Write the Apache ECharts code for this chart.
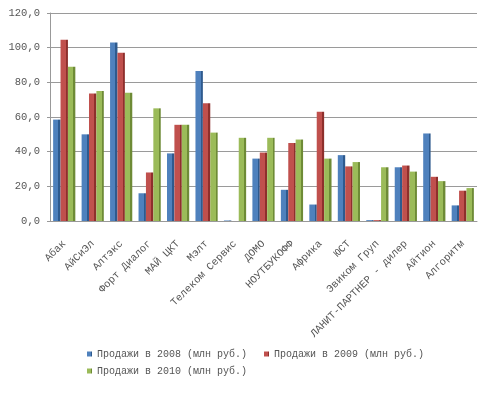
<!DOCTYPE html>
<html><head><meta charset="utf-8">
<script src="https://cdn.jsdelivr.net/npm/echarts@6/dist/echarts.min.js"></script>
<style>html,body{margin:0;padding:0;background:#fff}#c{width:485px;height:396px}</style>
</head><body><div id="c"></div>
<script>
const categories = ["Абак","АйСиЭл","Алтэкс","Форт Диалог","МАЙ ЦКТ","Мэлт","Телеком Сервис","ДОМО","НОУТБУКОФФ","Африка","ЮСТ","Эвиком Груп","ЛАНИТ-ПАРТНЕР - дилер","Айтион","Алгоритм"];
const sales2008 = [58.5, 50, 103, 16, 39, 86.5, 0.3, 36, 18, 9.5, 38, 0.5, 31, 50.5, 9];
const sales2009 = [104.5, 73.5, 97, 28, 55.5, 68, 0, 39.5, 45, 63, 31.5, 0.5, 32, 25.5, 17.5];
const sales2010 = [89, 75, 74, 65, 55.5, 51, 48, 48, 47, 36, 34, 31, 28.5, 23, 19];
const yTicks = [0, 20, 40, 60, 80, 100, 120];
const seriesNames = ["Продажи в 2008 (млн руб.)","Продажи в 2009 (млн руб.)","Продажи в 2010 (млн руб.)"];

const colors = ["#4F81BD","#C0504D","#9BBB59"];
const darks = ["#2E5A8E","#8E2F2C","#6E8B36"];
function grad(i){
  return new echarts.graphic.LinearGradient(0,0,1,0,[
    {offset:0,color:colors[i]},{offset:0.72,color:colors[i]},
    {offset:0.72,color:darks[i]},{offset:1,color:darks[i]}]);
}
const font = "'Liberation Mono', 'DejaVu Sans Mono', monospace";
const chart = echarts.init(document.getElementById('c'));
const mk = (i, data) => ({
  name: seriesNames[i], type: 'bar', data: data,
  barGap: '0%', barCategoryGap: '22%',
  itemStyle: { color: grad(i) },
  emphasis: { disabled: true }
});
chart.setOption({
  animation: false,
  color: colors,
  grid: { left: 50, right: 8, top: 13, bottom: 175 },
  legend: [
    { data: [seriesNames[0], seriesNames[1]], left: 82, top: 344, itemWidth: 5, itemHeight: 5, itemGap: 17,
      icon: 'rect', textStyle: { fontFamily: font, fontSize: 10, color: '#555' } },
    { data: [seriesNames[2]], left: 82, top: 361, itemWidth: 5, itemHeight: 5,
      icon: 'rect', textStyle: { fontFamily: font, fontSize: 10, color: '#555' } }
  ],
  xAxis: {
    type: 'category', data: categories,
    axisLine: { lineStyle: { color: '#999' } },
    axisTick: { show: false },
    axisLabel: { rotate: 45, interval: 0, fontFamily: font, fontSize: 10.5, color: '#555', margin: 21 }
  },
  yAxis: {
    type: 'value', min: 0, max: 120, interval: 20,
    axisLine: { show: true, lineStyle: { color: '#999' } },
    axisTick: { show: true, length: 3, lineStyle: { color: '#999' } },
    splitLine: { lineStyle: { color: '#9a9a9a', width: 1 } },
    axisLabel: { fontFamily: font, fontSize: 10.5, color: '#555', margin: 10,
      formatter: v => v.toFixed(1).replace('.', ',') }
  },
  series: [mk(0, sales2008), mk(1, sales2009), mk(2, sales2010)]
});
</script></body></html>
